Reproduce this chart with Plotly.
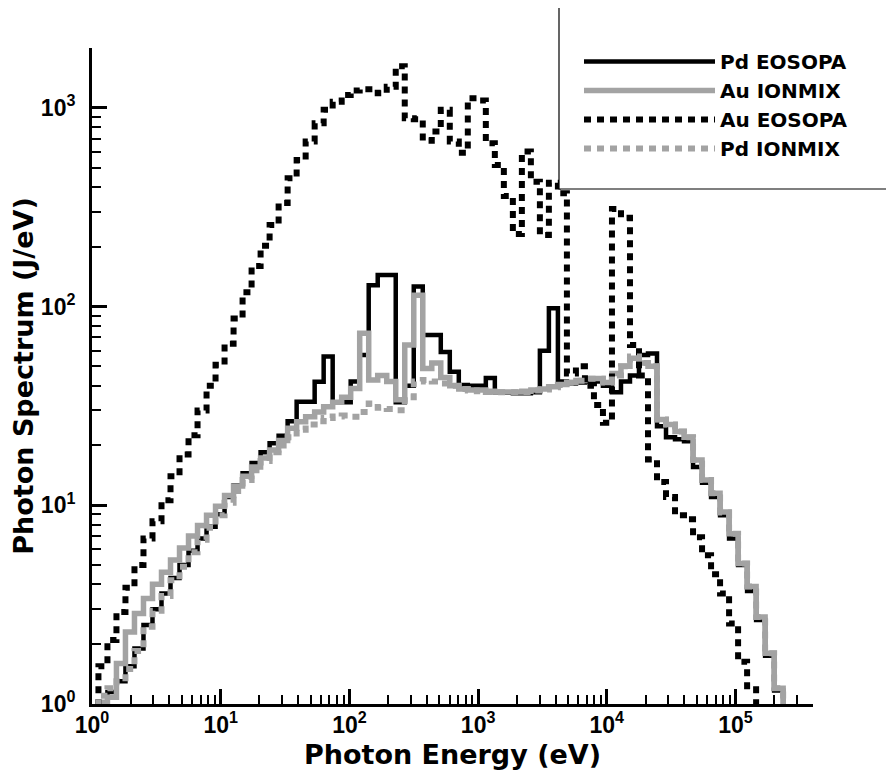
import math
import plotly.graph_objects as go

# ---- bin grid (log-uniform photon-energy bins) ----
N_BINS = 79
BIN_LOG_START = -0.02
BIN_LOG_WIDTH = 0.07
EDGES = [10 ** (BIN_LOG_START + BIN_LOG_WIDTH * k) for k in range(N_BINS + 1)]

# ---- series values per bin (J/eV) ----
PD_EOSOPA = [0.8, 1.02, 1.15, 1.3, 1.55, 1.9, 2.5, 3.0, 3.6, 4.3, 5.0, 5.9, 6.8, 7.8, 9.0, 11.0, 12.6,
             14.5, 16.3, 18.5, 20.5, 22.4, 26.5, 33.2, 33.2, 41.8, 56, 33, 33, 42, 57, 128, 144, 144, 33,
             40, 126, 72, 72, 59, 47, 40.3, 40, 40, 43.7, 37, 36.8, 36.6, 36.6, 37, 60, 98, 42, 41, 41.5,
             42, 42, 40, 37, 42, 45, 57, 58, 25, 22, 21.5, 21, 15.6, 13, 11, 8.9, 6.8, 5.0, 3.7, 2.65,
             1.75, 1.17, 0.5]
AU_IONMIX = [0.8, 1.02, 1.08, 1.6, 2.3, 2.85, 3.4, 4.0, 4.6, 5.3, 6.1, 7.0, 7.9, 8.9, 9.9, 11.2, 12.5,
             14.0, 15.6, 17.3, 19.0, 21.2, 24.4, 26.3, 27.9, 29.5, 31.3, 33, 35, 38.7, 73.3, 42.7, 45, 42,
             34, 64, 114, 48.8, 52, 44, 40, 38.5, 38, 38, 37.5, 37.2, 37.2, 37.2, 37.5, 38, 38.5, 39.5,
             40.5, 41.5, 42.5, 43.5, 43.5, 41.5, 46, 50, 55, 52, 50, 27, 25.5, 23.5, 22, 16.9, 13.4, 11.5,
             9.26, 7.2, 5.1, 3.9, 2.74, 1.8, 1.2, 0.5]
AU_EOSOPA = [0.8, 1.55, 2.1, 2.9, 3.85, 5.0, 6.8, 8.3, 10.6, 14.0, 18.0, 22.5, 30, 40, 51, 65, 87, 118,
             160, 202, 257, 332, 442, 547, 676, 836, 977, 1074, 1161, 1222, 1241, 1241, 1183, 1278, 1620,
             887, 877, 683, 759, 977, 676, 595, 1117, 1087, 663, 516, 360, 232, 602, 425, 229, 420, 372,
             46, 50, 40, 32, 26, 310, 280, 64, 45, 17, 13.1, 11.0, 8.9, 8.5, 6.9, 5.6, 4.5, 3.6, 2.54,
             1.63, 1.23, 0.5]
PD_IONMIX = [0.8, 1.1, 1.2, 1.3, 1.5, 1.85, 2.45, 2.95, 3.5, 4.2, 4.9, 5.8, 6.7, 7.7, 8.9, 10.3, 11.8,
             13.4, 15.0, 16.7, 18.5, 20, 22, 24, 25.5, 26.5, 27.5, 28, 28.3, 27.9, 29.5, 32.5, 31, 30.5,
             30.1, 35, 42, 42.7, 42, 41, 40, 38.5, 37.8, 37.5, 37.2, 37, 37, 37, 37.2, 37.8, 38.3, 39.3,
             40.3, 41.3, 42.3, 43.3, 43.3, 41.5, 45, 50, 56, 52, 50, 27, 25.5, 23.5, 22, 16.9, 13.4, 11.5,
             9.2, 7.2, 5.1, 3.9, 2.74, 1.8, 1.2, 0.5]

SERIES = [
    ("Pd EOSOPA", PD_EOSOPA, "black", 4.5, "solid"),
    ("Au IONMIX", AU_IONMIX, "#a3a3a3", 5.5, "solid"),
    ("Au EOSOPA", AU_EOSOPA, "black", 6, "7px,6px"),
    ("Pd IONMIX", PD_IONMIX, "#a3a3a3", 6, "7px,6px"),
]

X_MAJOR = [1, 10, 100, 1000, 10000, 100000]
X_MAJOR_TEXT = ["10<sup>0</sup>", "10<sup>1</sup>", "10<sup>2</sup>", "10<sup>3</sup>", "10<sup>4</sup>", "10<sup>5</sup>"]
Y_MAJOR = [1, 10, 100, 1000]
Y_MAJOR_TEXT = ["10<sup>0</sup>", "10<sup>1</sup>", "10<sup>2</sup>", "10<sup>3</sup>"]
X_MAX = 4e5
Y_MAX = 2000

TICK_FONT = "Liberation Sans, Arial, Helvetica, sans-serif"
TEXT_FONT = "DejaVu Sans, Verdana, sans-serif"

fig = go.Figure()
for name, vals, color, width, dash in SERIES:
    n = len(vals)
    fig.add_trace(go.Scatter(
        x=EDGES[:n + 1], y=list(vals) + [vals[-1]], name=name, mode="lines",
        line=dict(color=color, width=width, dash=dash, shape="hv"),
    ))

minor_x = [m * 10 ** e for e in range(0, 6) for m in range(2, 10) if m * 10 ** e <= X_MAX]
minor_y = [m * 10 ** e for e in range(0, 4) for m in range(2, 10) if m * 10 ** e <= Y_MAX]

axis_common = dict(
    type="log", showgrid=False, zeroline=False, showline=True, linecolor="black", linewidth=3,
    ticks="inside", ticklen=15, tickwidth=3, tickcolor="black",
    tickfont=dict(family=TICK_FONT, size=23, color="black", weight="bold"),
)

fig.update_xaxes(
    **axis_common, range=[0, math.log10(X_MAX)], tickvals=X_MAJOR, ticktext=X_MAJOR_TEXT,
    ticklabelstandoff=-2,
    minor=dict(tickvals=minor_x, ticks="inside", ticklen=9, tickwidth=1.5, tickcolor="black", showgrid=False),
    title=dict(text="Photon Energy (eV)", font=dict(family=TEXT_FONT, size=27, color="black", weight="bold"), standoff=9),
)
fig.update_yaxes(
    **axis_common, range=[0, math.log10(Y_MAX)], tickvals=Y_MAJOR, ticktext=Y_MAJOR_TEXT,
    ticklabelstandoff=9,
    minor=dict(tickvals=minor_y, ticks="inside", ticklen=9, tickwidth=1.5, tickcolor="black", showgrid=False),
    title=dict(text="Photon Spectrum (J/eV)", font=dict(family=TEXT_FONT, size=27, color="black", weight="bold"), standoff=3),
)

# page offset of the rendered figure (browser body margin)
OFF = 8
W, H = 878, 762
L, R, T, B = 84, 73, 40, 66
PW, PH = W - L - R, H - T - B

def scr_to_paper_x(sx):
    return (sx - OFF - L) / PW

def scr_to_paper_y(sy):
    return (H - B - (sy - OFF)) / PH

fig.add_shape(type="rect", xref="paper", yref="paper",
              x0=scr_to_paper_x(559), x1=scr_to_paper_x(905), y0=scr_to_paper_y(189), y1=scr_to_paper_y(6),
              fillcolor="white", line=dict(color="black", width=1.2), layer="above")

fig.update_layout(
    width=W, height=H, margin=dict(l=L, r=R, t=T, b=B, autoexpand=False),
    paper_bgcolor="white", plot_bgcolor="white",
    showlegend=True,
    legend=dict(x=scr_to_paper_x(579), y=scr_to_paper_y(42), xanchor="left", yanchor="top",
                bgcolor="rgba(0,0,0,0)", borderwidth=0, itemwidth=131,
                font=dict(family=TEXT_FONT, size=20, color="black", weight="bold"), tracegroupgap=0),
)

fig.write_html("out.html")
